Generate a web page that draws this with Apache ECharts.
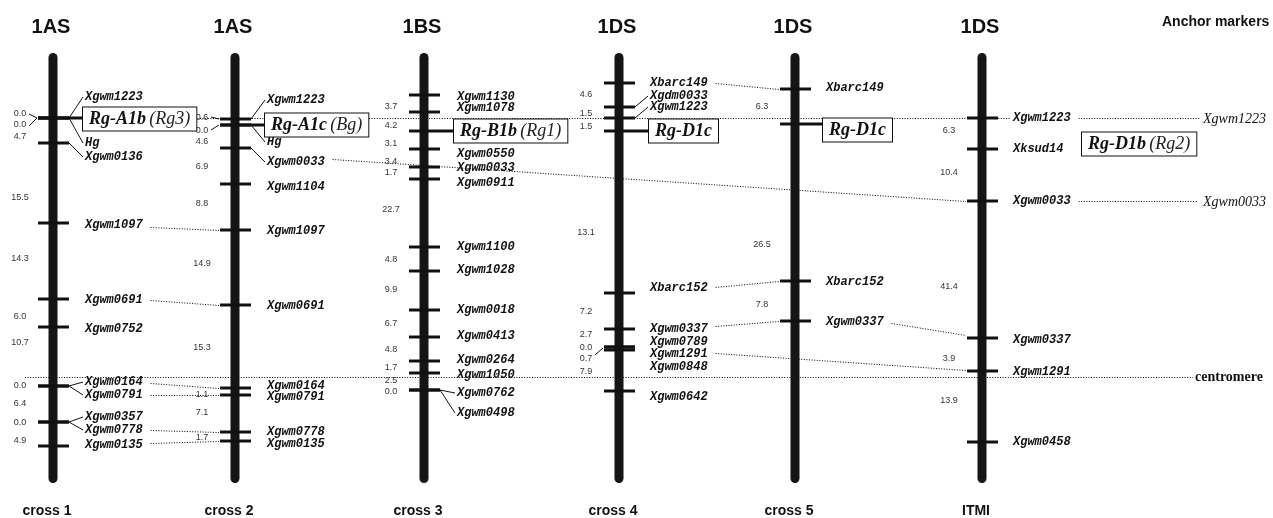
<!DOCTYPE html>
<html>
<head>
<meta charset="utf-8">
<script src="https://cdn.jsdelivr.net/npm/echarts@6/dist/echarts.min.js"></script>
<style>
html, body { margin: 0; padding: 0; background: #fff; }
#main { width: 1273px; height: 518px; }
</style>
</head>
<body>
<div id="main"></div>
<script>
/* linkage maps of chromosome 1S, six crosses */

var chromNames = ['1AS', '1AS', '1BS', '1DS', '1DS', '1DS'];
var crossNames = ['cross 1', 'cross 2', 'cross 3', 'cross 4', 'cross 5', 'ITMI'];
var chromX = [53, 235, 424, 619, 795, 982];   // map columns
var mapTop = 53, mapBottom = 483;             // drawn extent of each map

// cross 1 (1AS)
var names1 = ['Xgwm1223', 'Hg', 'Xgwm0136', 'Xgwm1097', 'Xgwm0691', 'Xgwm0752', 'Xgwm0164', 'Xgwm0791', 'Xgwm0357', 'Xgwm0778', 'Xgwm0135'];
var pos1 = [118, 118, 143, 223, 299, 327, 386, 386, 422, 422, 446];
var dist1 = ['0.0', '0.0', '4.7', '15.5', '14.3', '6.0', '10.7', '0.0', '6.4', '0.0', '4.9'];
var distPos1 = [114, 125, 137, 198, 259, 317, 343, 386, 404, 423, 441];

// cross 2 (1AS)
var names2 = ['Xgwm1223', 'Hg', 'Xgwm0033', 'Xgwm1104', 'Xgwm1097', 'Xgwm0691', 'Xgwm0164', 'Xgwm0791', 'Xgwm0778', 'Xgwm0135'];
var pos2 = [119, 125, 148, 184, 230, 305, 388, 395, 432, 441];
var dist2 = ['0.6', '0.0', '4.6', '6.9', '8.8', '14.9', '15.3', '1.1', '7.1', '1.7'];
var distPos2 = [118, 131, 142, 167, 204, 264, 348, 395, 413, 438];

// cross 3 (1BS)
var names3 = ['Xgwm1130', 'Xgwm1078', 'Xgwm0550', 'Xgwm0033', 'Xgwm0911', 'Xgwm1100', 'Xgwm1028', 'Xgwm0018', 'Xgwm0413', 'Xgwm0264', 'Xgwm1050', 'Xgwm0762', 'Xgwm0498'];
var pos3 = [95, 112, 149, 167, 179, 247, 271, 310, 337, 361, 373, 390, 390];
var dist3 = ['3.7', '4.2', '3.1', '3.4', '1.7', '22.7', '4.8', '9.9', '6.7', '4.8', '1.7', '2.5', '0.0'];
var distPos3 = [107, 126, 144, 162, 173, 210, 260, 290, 324, 350, 368, 381, 392];

// cross 4 (1DS)
var names4 = ['Xbarc149', 'Xgdm0033', 'Xgwm1223', 'Xbarc152', 'Xgwm0337', 'Xgwm0789', 'Xgwm1291', 'Xgwm0848', 'Xgwm0642'];
var pos4 = [83, 107, 118, 293, 329, 347, 347, 350, 391];
var dist4 = ['4.6', '1.5', '1.5', '13.1', '7.2', '2.7', '0.0', '0.7', '7.9'];
var distPos4 = [95, 114, 127, 233, 312, 335, 348, 359, 372];

// cross 5 (1DS)
var names5 = ['Xbarc149', 'Xbarc152', 'Xgwm0337'];
var pos5 = [89, 281, 321];
var dist5 = ['6.3', '26.5', '7.8'];
var distPos5 = [107, 245, 305];

// ITMI (1DS)
var names6 = ['Xgwm1223', 'Xksud14', 'Xgwm0033', 'Xgwm0337', 'Xgwm1291', 'Xgwm0458'];
var pos6 = [118, 149, 201, 338, 371, 442];
var dist6 = ['6.3', '10.4', '41.4', '3.9', '13.9'];
var distPos6 = [131, 173, 287, 359, 401];

// resistance genes
var geneChrom = [0, 1, 2, 3, 4, 5];
var geneName = ['Rg-A1b', 'Rg-A1c', 'Rg-B1b', 'Rg-D1c', 'Rg-D1c', 'Rg-D1b'];
var geneAlt = ['Rg3', 'Bg', 'Rg1', '', '', 'Rg2'];
var geneTick = [118, 125, 131, 131, 124, null];

// common markers between maps (from map, pos, to map, pos)
var linkFrom = [0, 0, 0, 0, 0, 0, 1, 3, 3, 3, 3, 4];
var linkFromPos = [227, 300, 383, 395, 430, 443, 159, 83, 287, 326, 353, 323];
var linkTo = [1, 1, 1, 1, 1, 1, 5, 4, 4, 4, 5, 5];
var linkToPos = [230, 305, 388, 395, 432, 441, 201, 89, 281, 321, 370, 335];

var anchorNames = ['Xgwm1223', 'Xgwm0033'];
var anchorPos = [118, 201];
var centromerePos = 377;

// ---- layout (label placement) ----
var labelDx = [32, 32, 33, 31, 31, 31];
var labelPos = [
  [97, 143, 157, 225, 300, 329, 382, 395, 417, 430, 445],
  [100, 142, 162, 187, 231, 306, 386, 397, 432, 444],
  [97, 108, 154, 168, 183, 247, 270, 310, 336, 360, 375, 393, 413],
  [83, 96, 107, 288, 329, 342, 354, 367, 397],
  [88, 282, 322],
  [118, 149, 201, 340, 372, 442]
];
var fanned = [
  [1, 1, 1, 0, 0, 0, 1, 1, 1, 1, 0],
  [1, 1, 1, 0, 0, 0, 0, 0, 0, 0],
  [0, 0, 0, 0, 0, 0, 0, 0, 0, 0, 0, 1, 1],
  [0, 1, 1, 0, 0, 0, 0, 0, 0],
  [0, 0, 0],
  [0, 0, 0, 0, 0, 0]
];
var geneDx = [30, 30, 30, 30, 28, 100];
var geneBoxPos = [119, 125, 131, 131, 130, 144];
var distArrowMap = [0, 0, 1, 1, 3];
var distArrowFrom = [114, 126, 117, 130, 355];
var distArrowTo = [118, 118, 119, 125, 348];
var anchorX = 1203;
var titlePos = 27, crossPos = 511;

var maps = [
  { names: names1, pos: pos1, dist: dist1, distPos: distPos1 },
  { names: names2, pos: pos2, dist: dist2, distPos: distPos2 },
  { names: names3, pos: pos3, dist: dist3, distPos: distPos3 },
  { names: names4, pos: pos4, dist: dist4, distPos: distPos4 },
  { names: names5, pos: pos5, dist: dist5, distPos: distPos5 },
  { names: names6, pos: pos6, dist: dist6, distPos: distPos6 }
];

var INK = '#111';
var MONO = 'italic bold 12px "Liberation Mono"';
var SMALL = '9px "Liberation Sans"';
var CHAR_W = 7.2;  // one monospace char at 12px

function seg (x1, y1, x2, y2, w, dotted) {
  var st = { stroke: dotted ? '#000' : INK, lineWidth: w };
  if (dotted) {
    st.lineDash = [1, 1.6];
    y1 = Math.round(y1) + 0.5; //画细线对齐像素
    y2 = Math.round(y2) + 0.5;
  }
  return { type: 'line', shape: { x1: x1, y1: y1, x2: x2, y2: y2 }, style: st };
}
function txt (s, x, y, font, align, color) {
  return {
    type: 'text',
    style: {
      text: s, x: x, y: y, font: font, fill: color || INK,
      align: align, verticalAlign: 'middle',
      textAlign: align, textVerticalAlign: 'middle'
    }
  };
}
function Y (api, v) { return api.coord([0, v])[1]; }
function X (api, v) { return api.coord([v, 0])[0]; }

function renderMap (params, api) {
  var i = api.value(2);
  var m = maps[i];
  var cx = X(api, chromX[i]);
  var dx = labelDx[i];
  var top = Y(api, mapTop), bot = Y(api, mapBottom);
  var out = [];
  out.push({ type: 'rect', shape: { x: cx - 4.5, y: top, width: 9, height: bot - top, r: 4.5 }, style: { fill: '#151515' } });
  m.pos.forEach(function (p, k) {
    var ty = Y(api, p), ly = Y(api, labelPos[i][k]);
    out.push(seg(cx - 15, ty, cx + 16, ty, 3));
    if (fanned[i][k]) out.push(seg(cx + 16, ty, cx + dx - 2, ly, 1));
    out.push(txt(m.names[k], cx + dx, ly, MONO, 'left'));
  });
  m.dist.forEach(function (d, k) {
    out.push(txt(d, cx - 33, Y(api, m.distPos[k]), SMALL, 'center', '#333'));
  });
  distArrowMap.forEach(function (mi, k) {
    if (mi === i) out.push(seg(cx - 24, Y(api, distArrowFrom[k]), cx - 16, Y(api, distArrowTo[k]), 1));
  });
  out.push(txt(chromNames[i], cx - 2, Y(api, titlePos), 'bold 20px "Liberation Sans"', 'center'));
  out.push(txt(crossNames[i], cx - 6, Y(api, crossPos), 'bold 14px "Liberation Sans"', 'center'));
  return { type: 'group', children: out };
}

function renderGene (params, api) {
  var g = api.value(2);
  var i = geneChrom[g];
  var cx = X(api, chromX[i]);
  var bx = cx + geneDx[g];
  var out = [];
  if (geneTick[g] !== null) {
    var ty = Y(api, geneTick[g]);
    out.push(seg(cx - 15, ty, cx + 16, ty, 3));
    out.push(seg(cx + 16, ty, bx, ty, 3));
  }
  var label = '{a|' + geneName[g] + '}' + (geneAlt[g] ? ' {b|(' + geneAlt[g] + ')}' : '');
  out.push({
    type: 'text',
    style: {
      text: label, x: bx, y: Y(api, geneBoxPos[g]),
      align: 'left', verticalAlign: 'middle', textAlign: 'left', textVerticalAlign: 'middle',
      fill: INK, backgroundColor: '#fff', borderColor: INK, borderWidth: 1, padding: [3, 6, 2, 6],
      rich: {
        a: { fontFamily: 'Liberation Serif', fontStyle: 'italic', fontWeight: 'bold', fontSize: 18, fill: INK },
        b: { fontFamily: 'Liberation Serif', fontStyle: 'italic', fontWeight: 'normal', fontSize: 18, fill: '#222' }
      }
    }
  });
  return { type: 'group', children: out };
}

function labelEnd (api, mapIdx, name) {
  return X(api, chromX[mapIdx]) + labelDx[mapIdx] + name.length * CHAR_W + 8;
}

function renderLinks (params, api) {
  var out = [];
  linkFrom.forEach(function (f, k) {
    var t = linkTo[k];
    out.push(seg(labelEnd(api, f, 'Xgwm0000'), Y(api, linkFromPos[k]),
      X(api, chromX[t]) - 16, Y(api, linkToPos[k]), 1, true));
  });
  var ax = X(api, anchorX);
  // Xgwm1223 anchor runs through all maps
  var y0 = Y(api, anchorPos[0]);
  out.push(seg(X(api, chromX[0]) + geneDx[0], y0, X(api, chromX[5]) + labelDx[5] - 3, y0, 1, true));
  out.push(seg(labelEnd(api, 5, anchorNames[0]), y0, ax - 3, y0, 1, true));
  var y1 = Y(api, anchorPos[1]);
  out.push(seg(labelEnd(api, 5, anchorNames[1]), y1, ax - 6, y1, 1, true));
  anchorNames.forEach(function (n, k) {
    out.push(txt(n, ax, Y(api, anchorPos[k]) + 1, 'italic 14px "Liberation Serif"', 'left'));
  });
  var yc = Y(api, centromerePos);
  out.push(seg(X(api, chromX[0]) - 28, yc, ax - 10, yc, 1, true));
  out.push(txt('centromere', ax - 8, yc, 'bold 14px "Liberation Serif"', 'left'));
  out.push(txt('Anchor markers', X(api, 1162), Y(api, 22), 'bold 14px "Liberation Sans"', 'left'));
  return { type: 'group', children: out };
}

var myChart = echarts.init(document.getElementById('main'));
var option = {
  animation: false,
  grid: { left: 0, right: 0, top: 0, bottom: 0 },
  xAxis: { type: 'value', min: 0, max: 1273, show: false },
  yAxis: { type: 'value', min: 0, max: 518, inverse: true, show: false },
  series: [
    {
      type: 'custom', name: 'links', z: 1, silent: true, clip: false,
      data: [[0, 0, 0]],
      renderItem: renderLinks
    },
    {
      type: 'custom', name: 'maps', z: 2, silent: true, clip: false,
      data: chromX.map(function (x, i) { return [x, mapTop, i]; }),
      renderItem: renderMap
    },
    {
      type: 'custom', name: 'genes', z: 3, silent: true, clip: false,
      data: geneChrom.map(function (c, g) { return [chromX[c], geneBoxPos[g], g]; }),
      renderItem: renderGene
    }
  ]
};
myChart.setOption(option);
</script>
</body>
</html>
